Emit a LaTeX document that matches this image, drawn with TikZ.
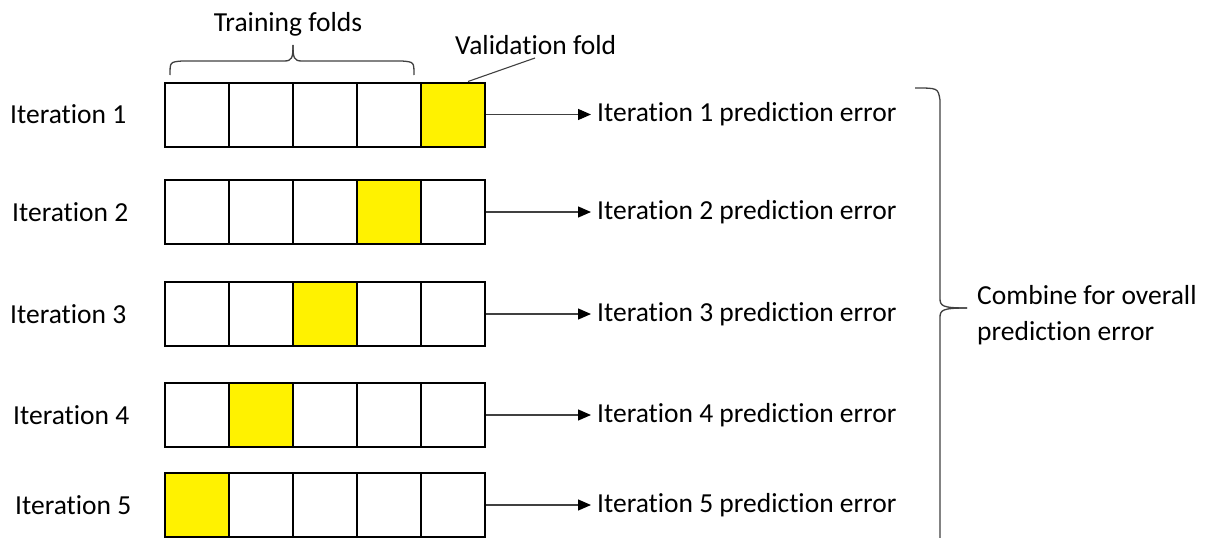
\documentclass[tikz,border=0pt]{standalone}
\usepackage{fontspec}
\setmainfont{Carlito}[Ligatures=NoCommon]
\usetikzlibrary{arrows.meta}
\tikzset{
  cell/.style={draw=black, line width=2pt, minimum width=64pt, minimum height=64pt, inner sep=0pt, fill=white},
  valcell/.style={cell, fill=yellow},
  lbl/.style={inner sep=0pt, anchor=west, font=\fontsize{27.5}{36}\selectfont},
  conn/.style={draw=black!75, line width=1.3pt, shorten >=6pt, -{Triangle[length=13pt,width=11pt,black]}},
  brace/.style={draw=black!75, line width=1.3pt},
  thin/.style={draw=black!75, line width=1.1pt}
}
\begin{document}
\begin{tikzpicture}[x=1pt,y=-1pt]
\useasboundingbox (0,0) rectangle (1205,538);
% rows: number / y-centre / validation column / left label x
\foreach \r/\y/\v/\lx in {1/114.5/5/10, 2/212/4/12, 3/314/3/10, 4/415/2/13, 5/505/1/15}{
  \foreach \c in {1,...,5}{
    \ifnum\c=\v
      \node[valcell] (c\r-\c) at ({165+32+64*(\c-1)}, \y) {};
    \else
      \node[cell] (c\r-\c) at ({165+32+64*(\c-1)}, \y) {};
    \fi
  }
  \node[lbl] (it\r) at (\lx, \y) {Iteration \r};
  \node[lbl] (err\r) at (597, \y) {Iteration \r{} prediction error};
  \draw[conn] (c\r-5.east) -- (err\r.west);
}
% training folds brace
\node[lbl, anchor=center] (train) at (288, 24) {Training folds};
\coordinate (tbL) at (170,75);
\coordinate (tbR) at (414,75);
\coordinate (tbT) at (293,45);
\draw[brace] (tbL) .. controls (170,62) .. (182,61) -- (284,61) .. controls (292,61) and (293,58) .. (tbT);
\draw[brace] (tbT) .. controls (293,58) and (294,61) .. (302,61) -- (402,61) .. controls (414,62) .. (tbR);
% validation fold
\node[lbl] (valid) at (455, 45) {Validation fold};
\draw[thin] ([xshift=15pt]c1-5.north) -- (535,58);
% right brace
\coordinate (rbT) at (915,88);
\coordinate (rbB) at (940,538);
\coordinate (rbM) at (967,308);
\draw[brace] (rbT) .. controls (938,88) .. (940,100) -- (940,298) .. controls (940,306) and (942,308) .. (rbM);
\draw[brace] (rbM) .. controls (942,308) and (940,310) .. (940,318) -- (rbB);
\node[lbl, align=left] (comb) at (977, 315) {Combine for overall\\prediction error};
\end{tikzpicture}
\end{document}
